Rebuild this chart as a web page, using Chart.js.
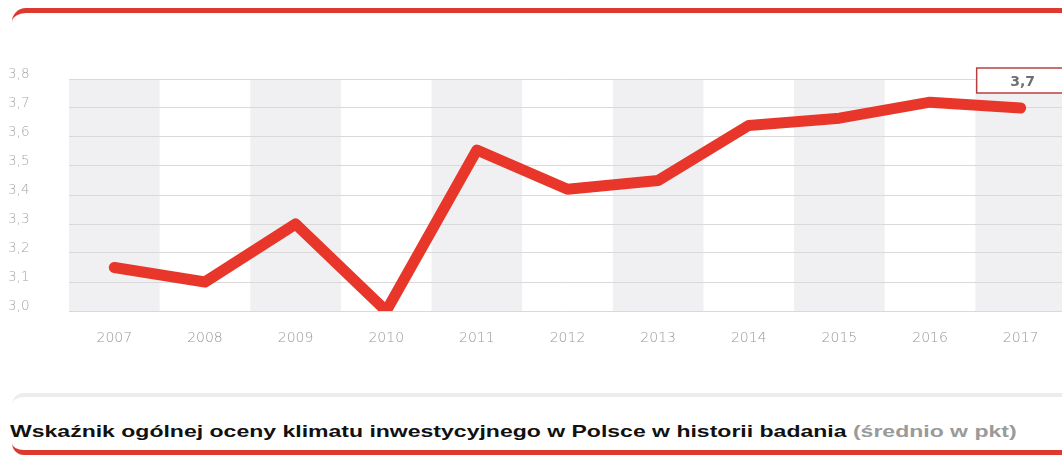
<!DOCTYPE html>
<html>
<head>
<meta charset="utf-8">
<script src="https://cdn.jsdelivr.net/npm/chart.js@4.4.1/dist/chart.umd.min.js"></script>
<style>
  html, body { margin: 0; padding: 0; background: #fff; }
  body { width: 1062px; height: 464px; overflow: hidden; position: relative; }
  .topbar {
    position: absolute; left: 12px; top: 8px; width: 1080px; height: 30px;
    border-top: 5px solid #dc3a2e; border-top-left-radius: 14px;
  }
  #wrap { position: absolute; left: 0; top: 0; width: 1066px; height: 360px; }
  .caption {
    position: absolute; left: 12px; top: 393px; width: 1080px; height: 62px;
    border-top: 4px solid #ececec; border-bottom: 5px solid #dc3a2e;
    border-top-left-radius: 12px; border-bottom-left-radius: 12px;
    box-sizing: border-box;
  }
  .caption p {
    margin: 0; position: absolute; left: -2px; top: 25px;
    font-family: "Liberation Sans", Arial, sans-serif; font-weight: bold;
    font-size: 16.5px; color: #111; white-space: nowrap;
    transform: scaleX(1.395); transform-origin: left center;
  }
  .caption span { color: #9a9a9a; }
</style>
</head>
<body>
<div class="topbar"></div>
<div id="wrap"><canvas id="chart"></canvas></div>
<div class="caption"><p>Wskaźnik ogólnej oceny klimatu inwestycyjnego w Polsce w historii badania <span>(średnio w pkt)</span></p></div>
<script>
// years on the x axis and the yearly index values
const years = ['2007', '2008', '2009', '2010', '2011', '2012', '2013', '2014', '2015', '2016', '2017']
const values = [3.15, 3.10, 3.30, 3.00, 3.555, 3.42, 3.45, 3.64, 3.665, 3.72, 3.70]
const yTicks = [3.0, 3.1, 3.2, 3.3, 3.4, 3.5, 3.6, 3.7, 3.8]

const fmt = v => v.toFixed(1).replace('.', ',')
const tickFont = '"DejaVu Sans", "Liberation Sans", sans-serif'

// alternating grey columns behind the grid
const bands = {
  id: 'bands',
  beforeDraw(chart) {
    const {ctx, chartArea, scales: {x}} = chart
    const w = x.width / years.length
    ctx.save()
    ctx.fillStyle = '#f0f0f2'
    years.forEach((y, i) => {
      if (i % 2 === 0) ctx.fillRect(x.left + i * w, chartArea.top, w, chartArea.bottom - chartArea.top)
    })
    ctx.restore()
  }
}

// boxed value label over the last year
const lastLabel = {
  id: 'lastLabel',
  afterDatasetsDraw(chart) {
    const {ctx, chartArea, scales: {x}} = chart
    const i = values.length - 1
    const cx = x.getPixelForValue(i)
    const top = chartArea.top - 11
    ctx.save()
    ctx.fillStyle = '#fff'
    ctx.strokeStyle = '#b8403f'
    ctx.lineWidth = 1.5
    ctx.fillRect(cx - 44, top, 90, 25)
    ctx.strokeRect(cx - 44, top, 90, 25)
    ctx.fillStyle = '#707070'
    ctx.font = 'bold 14px "DejaVu Sans", sans-serif'
    ctx.textAlign = 'center'
    ctx.textBaseline = 'middle'
    ctx.fillText(fmt(values[i]), cx + 2, top + 14)
    ctx.restore()
  }
}

const ctx = document.getElementById('chart')
new Chart(ctx, {
  type: 'line',
  data: {
    labels: years,
    datasets: [{
      data: values,
      borderColor: '#e8372a',
      borderWidth: 11,
      borderCapStyle: 'round',
      borderJoinStyle: 'round',
      pointRadius: 0,
      tension: 0,
      fill: false
    }]
  },
  options: {
    responsive: true,
    maintainAspectRatio: false,
    animation: false,
    layout: { padding: { top: 79, left: 8, right: 0, bottom: 0 } },
    plugins: { legend: { display: false }, tooltip: { enabled: false } },
    scales: {
      x: {
        offset: true,
        grid: { display: false, drawTicks: false },
        border: { display: false },
        ticks: {
          color: '#989898', padding: 19,
          font: { family: tickFont, size: 14, weight: 200 }
        },
        afterFit(s) { s.height = 49 }
      },
      y: {
        min: 3.0, max: 3.8,
        afterBuildTicks(s) { s.ticks = yTicks.map(v => ({ value: v })) },
        grid: { color: '#d9d9d9', lineWidth: 1, drawTicks: false },
        border: { display: false },
        ticks: {
          color: '#a6a6a6', crossAlign: 'far', labelOffset: -5,
          font: { family: tickFont, size: 13.5, weight: 200 },
          callback: v => fmt(v)
        },
        afterFit(s) { s.width = 61 }
      }
    }
  },
  plugins: [bands, lastLabel]
})
</script>
</body>
</html>
